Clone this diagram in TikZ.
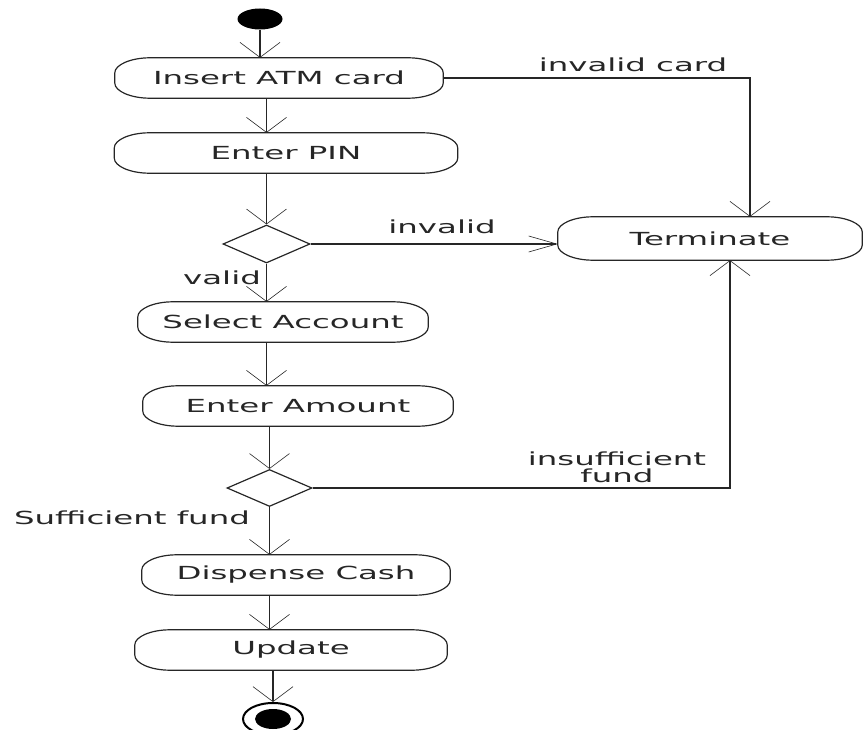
\documentclass[tikz,border=0pt]{standalone}
\usepackage{fontspec}
\newfontfamily\diagfont[FakeStretch=1.8]{DejaVu Sans}
\usetikzlibrary{arrows.meta,shapes.geometric,calc}

\begin{document}
\begin{tikzpicture}[x=1pt,y=-1pt,
  every node/.style={font=\diagfont\fontsize{18}{21}\selectfont, text=black!85},
  act/.style={rectangle, minimum height=40, inner sep=0},
  boxline/.style={draw=black!85, line width=1.2},
  choice/.style={diamond, draw=black!85, line width=1.2, minimum width=87, minimum height=38, inner sep=0},
  vflow/.style={draw=black!85, line width=1.2,
    -{Straight Barb[length=15pt, width=40pt, line width=0.6pt]}},
  hflow/.style={draw=black!85, line width=1.2,
    -{Straight Barb[length=28pt, width=16pt, line width=0.6pt]}}
]
\useasboundingbox (0,0) rectangle (863,730);

% initial and final states
\node[ellipse, fill=black, minimum width=45, minimum height=21, inner sep=0] (start) at (260,19) {};
\node[ellipse, draw=black, line width=2, fill=white, minimum width=60, minimum height=32, inner sep=0] (stop) at (273,719) {};
\node[ellipse, fill=black, minimum width=36, minimum height=20, inner sep=0] (stopdot) at (stop.center) {};

% activities
\node[act, minimum width=328] (ins)  at (279,78)  {Insert ATM card};
\node[act, minimum width=343] (pin)  at (286,153) {Enter PIN};
\node[act, minimum width=290] (sel)  at (283,322) {Select Account};
\node[act, minimum width=310] (amt)  at (298,406) {Enter Amount};
\node[act, minimum width=308] (disp) at (296,575) {Dispense Cash};
\node[act, minimum width=312] (upd)  at (291,650) {Update};
\node[act, minimum width=304, minimum height=43] (term) at (710,238.5) {Terminate};

% rounded outlines of the activities
\foreach \n in {ins,pin,sel,amt,disp,upd,term} {
  \draw[boxline]
    ($(\n.north west)+(35,0)$) -- ($(\n.north east)+(-35,0)$)
    .. controls +(19,0) and +(0,-8) .. ($(\n.north east)+(0,15)$)
    -- ($(\n.south east)+(0,-15)$)
    .. controls +(0,8) and +(19,0) .. ($(\n.south east)+(-35,0)$)
    -- ($(\n.south west)+(35,0)$)
    .. controls +(-19,0) and +(0,8) .. ($(\n.south west)+(0,-15)$)
    -- ($(\n.north west)+(0,15)$)
    .. controls +(0,-8) and +(-19,0) .. ($(\n.north west)+(35,0)$) -- cycle;
}

% decisions
\node[choice] (d1) at (266.5,244) {};
\node[choice, minimum width=85, minimum height=37] (d2) at (269.5,488) {};

% guard labels
\node (lcard) at (633,65)  {invalid card};
\node (linv)  at (442,227) {invalid};
\node (lval)  at (222,278) {valid};
\node (lsuf)  at (132,518) {Sufficient fund};
\node[align=center, font=\diagfont\fontsize{18}{17}\selectfont] (lins) at (617,467) {insufficient\\fund};

% main flow
\draw[vflow] (start) -- (start |- ins.north);
\draw[vflow] (d1 |- ins.south) -- (d1 |- pin.north);
\draw[vflow] (d1 |- pin.south) -- (d1.north);
\draw[vflow] (d1.south) -- (d1 |- sel.north);
\draw[vflow] (d1 |- sel.south) -- (d1 |- amt.north);
\draw[vflow] (d2 |- amt.south) -- (d2.north);
\draw[vflow] (d2.south) -- (d2 |- disp.north);
\draw[vflow] (d2 |- disp.south) -- (d2 |- upd.north);
\draw[vflow] (stop |- upd.south) -- (stop.north);

% branches to Terminate
\draw[vflow] (ins.east) -| ([xshift=40]term.north);
\draw[hflow] (d1.east) -- (d1.east -| term.west);
\draw[vflow] (d2.east) -| ([xshift=20]term.south);
\end{tikzpicture}
\end{document}
